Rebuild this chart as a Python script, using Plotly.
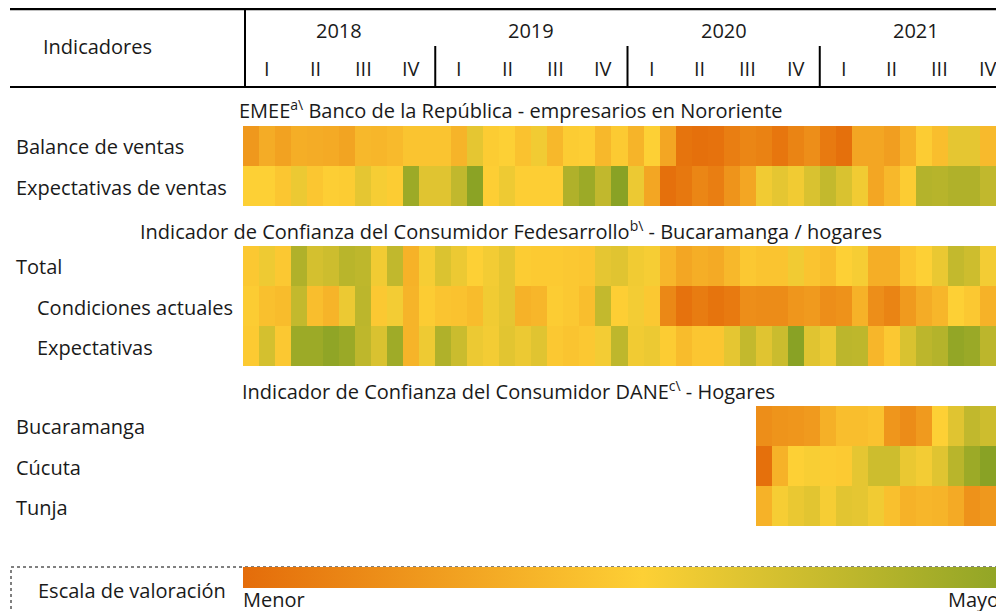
import plotly.graph_objects as go

# the page puts the figure 8px in from the top-left corner of the window
OFF = 8
W, H = 1004 - OFF, 611 - OFF

# ---------------- data ----------------
years = ["2018", "2019", "2020", "2021"]
quarters = ["I", "II", "III", "IV"]

section_titles = [
    "EMEE<sup>a\\</sup> Banco de la República - empresarios en Nororiente",
    "Indicador de Confianza del Consumidor Fedesarrollo<sup>b\\</sup> - Bucaramanga / hogares",
    "Indicador de Confianza del Consumidor DANE<sup>c\\</sup> - Hogares",
]

row_labels = ["Balance de ventas", "Expectativas de ventas", "Total",
              "Condiciones actuales", "Expectativas", "Bucaramanga", "Cúcuta", "Tunja"]

# monthly scores (0 = menor, 1 = mayor), Jan-2018 ... Dec-2021
balance_ventas = [0.22, 0.32, 0.27, 0.33, 0.32, 0.31, 0.28, 0.38, 0.37, 0.39, 0.44, 0.44,
                  0.44, 0.36, 0.60, 0.48, 0.50, 0.43, 0.55, 0.38, 0.48, 0.49, 0.38, 0.47,
                  0.36, 0.50, 0.29, 0.04, 0.02, 0.03, 0.09, 0.13, 0.11, 0.05, 0.12, 0.17,
                  0.07, 0.02, 0.29, 0.29, 0.25, 0.35, 0.48, 0.41, 0.60, 0.60, 0.39, 0.48]
expectativas_ventas = [0.50, 0.50, 0.45, 0.57, 0.45, 0.49, 0.48, 0.60, 0.53, 0.48, 0.90, 0.62,
                       0.62, 0.75, 0.97, 0.49, 0.56, 0.49, 0.49, 0.49, 0.82, 0.90, 0.75, 0.98,
                       0.57, 0.29, 0.02, 0.06, 0.13, 0.09, 0.20, 0.29, 0.55, 0.60, 0.55, 0.65,
                       0.74, 0.65, 0.55, 0.29, 0.38, 0.48, 0.80, 0.79, 0.82, 0.82, 0.75, 0.96]
icc_total = [0.46, 0.56, 0.46, 0.82, 0.67, 0.70, 0.78, 0.76, 0.55, 0.75, 0.35, 0.53,
             0.64, 0.57, 0.50, 0.54, 0.60, 0.48, 0.47, 0.47, 0.46, 0.45, 0.60, 0.62,
             0.55, 0.53, 0.37, 0.29, 0.33, 0.31, 0.38, 0.46, 0.44, 0.44, 0.55, 0.44,
             0.41, 0.50, 0.53, 0.33, 0.33, 0.45, 0.50, 0.58, 0.74, 0.70, 0.54, 0.62]
icc_condiciones = [0.48, 0.42, 0.40, 0.74, 0.41, 0.36, 0.57, 0.77, 0.46, 0.54, 0.36, 0.48,
                   0.44, 0.43, 0.40, 0.55, 0.60, 0.35, 0.37, 0.48, 0.46, 0.41, 0.74, 0.49,
                   0.54, 0.46, 0.14, 0.03, 0.08, 0.04, 0.07, 0.17, 0.16, 0.16, 0.21, 0.23,
                   0.17, 0.19, 0.35, 0.17, 0.12, 0.23, 0.32, 0.37, 0.50, 0.46, 0.35, 0.43]
icc_expectativas = [0.47, 0.67, 0.46, 0.90, 0.90, 0.95, 0.91, 0.76, 0.65, 0.89, 0.36, 0.56,
                    0.82, 0.71, 0.57, 0.54, 0.61, 0.57, 0.62, 0.46, 0.44, 0.46, 0.54, 0.76,
                    0.55, 0.57, 0.48, 0.40, 0.45, 0.45, 0.60, 0.74, 0.62, 0.71, 0.98, 0.62,
                    0.57, 0.77, 0.76, 0.37, 0.46, 0.65, 0.77, 0.80, 0.94, 0.91, 0.77, 0.76]
# DANE series start in September 2020 (16 months)
dane_start = 32
dane_bucaramanga = [0.17, 0.20, 0.21, 0.23, 0.34, 0.41, 0.41, 0.43, 0.21, 0.16, 0.23, 0.50,
                    0.62, 0.75, 0.70, 0.67]
dane_cucuta = [0.02, 0.35, 0.50, 0.52, 0.48, 0.47, 0.60, 0.70, 0.70, 0.58, 0.54, 0.62,
               0.78, 0.90, 0.98, 0.94]
dane_tunja = [0.35, 0.53, 0.58, 0.61, 0.53, 0.61, 0.60, 0.55, 0.42, 0.35, 0.37, 0.36,
              0.31, 0.19, 0.22, 0.26]

# ---------------- build grid ----------------
n_months = 12 * len(years)
blank = [None] * n_months
pad = lambda s: [None] * dane_start + list(s)

# row index 0..10 (0, 3, 7 are section-title rows)
z = [blank,
     balance_ventas, expectativas_ventas,
     blank,
     icc_total, icc_condiciones, icc_expectativas,
     blank,
     pad(dane_bucaramanga), pad(dane_cucuta), pad(dane_tunja)]
row_y = list(range(len(z)))
month_x = list(range(n_months))

colorscale = [[0.0, "#E46C0A"], [0.5, "#FDD035"], [1.0, "#84A024"]]


def px(x):
    """window pixel x -> paper fraction"""
    return (x - OFF) / W


def py(y):
    """window pixel y -> paper fraction"""
    return 1 - (y - OFF) / H


fig = go.Figure()
fig.add_trace(go.Heatmap(
    z=z, x=month_x, y=row_y, zmin=0, zmax=1, colorscale=colorscale,
    hoverongaps=False, xgap=0, ygap=0,
    colorbar=dict(orientation="h", thicknessmode="pixels", thickness=21,
                  lenmode="pixels", len=800, x=px(243), xanchor="left",
                  y=py(567), yanchor="top", xpad=0, ypad=0,
                  outlinewidth=0, ticks="", showticklabels=False),
))

TXT = "#1a1a1a"
FONT = "Open Sans"
FS = 20

fig.update_layout(
    width=W, height=H,
    margin=dict(l=0, r=0, t=0, b=0, autoexpand=False),
    paper_bgcolor="white", plot_bgcolor="white",
    font=dict(family=FONT, size=FS, color=TXT),
    xaxis=dict(domain=[px(243), 1], range=[-0.5, 47.0], visible=False, fixedrange=True),
    yaxis=dict(domain=[py(526), py(126)], range=[10.5, 0.5], visible=False, fixedrange=True),
    showlegend=False,
)

shapes = []


def line(x0, y0, x1, y1, w=2, dash=None):
    shapes.append(dict(type="line", xref="paper", yref="paper",
                       x0=px(x0), y0=py(y0), x1=px(x1), y1=py(y1),
                       line=dict(color="black", width=w, dash=dash)))


line(10, 9, 1004, 9, 2.5)
line(10, 87, 1004, 87, 2)
line(245, 9, 245, 87, 2)
cw = 761 / 47.5
for k in range(1, len(years)):
    xs = 243 + cw * 12 * k
    line(xs, 46, xs, 87, 2)

# legend box (dashed)
shapes.append(dict(type="rect", xref="paper", yref="paper",
                   x0=px(11), y0=py(567), x1=px(1015), y1=py(625),
                   line=dict(color="black", width=1, dash="dot"), layer="above"))
fig.update_layout(shapes=shapes)

ann = []


def text(x, y, s, anchor="center", size=FS):
    ann.append(dict(x=px(x), y=py(y), xref="paper", yref="paper", text=s,
                    showarrow=False, xanchor=anchor, yanchor="middle",
                    font=dict(family=FONT, size=size, color=TXT)))


text(97, 46, "Indicadores")
for k, yr in enumerate(years):
    text(243 + cw * (12 * k + 6), 30, yr)
    for q, ql in enumerate(quarters):
        text(243 + cw * (12 * k + 3 * q + 1.5), 69, ql)

# section titles
text(511, 109, section_titles[0])
text(511, 230, section_titles[1])
text(240, 390, section_titles[2], anchor="left")

# row labels
label_rows = [1, 2, 4, 5, 6, 8, 9, 10]
indent = {"Condiciones actuales": 35, "Expectativas": 35}
for lbl, r in zip(row_labels, label_rows):
    yc = 126 + (r - 1) * 40 + 21
    text(indent.get(lbl, 14), yc, lbl, anchor="left")

text(36, 590, "Escala de valoración", anchor="left")
text(241, 599, "Menor", anchor="left")
text(1009, 599, "Mayor", anchor="right")

fig.update_layout(annotations=ann)
fig.write_html("out.html")
